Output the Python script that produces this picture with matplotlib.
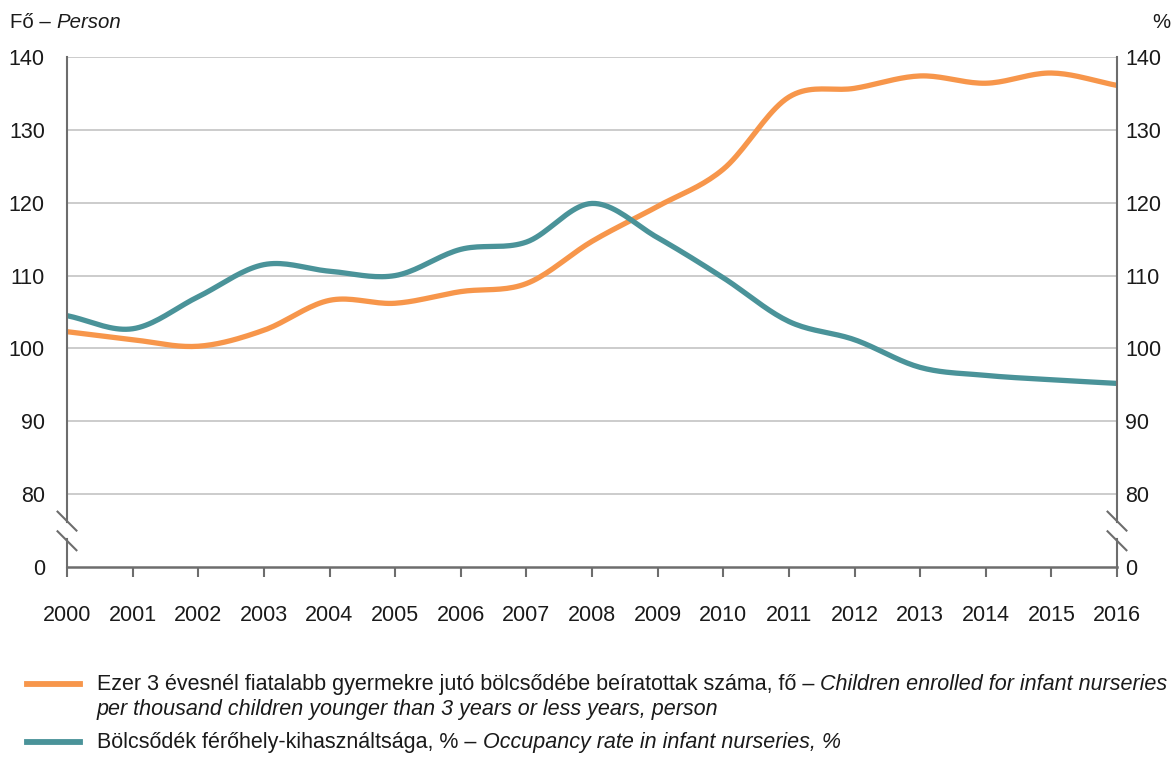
import numpy as np
import matplotlib.pyplot as plt
from matplotlib.lines import Line2D

plt.rcParams['font.family'] = ['Liberation Sans', 'DejaVu Sans']

# Adatok
YEARS = list(range(2000, 2017))
ENROLLED = [102.3, 101.2, 100.3, 102.5, 106.6, 106.2, 107.8, 108.9, 114.7,
            119.5, 124.6, 134.5, 135.7, 137.4, 136.4, 137.8, 136.1]
OCCUPANCY = [104.5, 102.7, 107.1, 111.5, 110.6, 110.0, 113.6, 114.6, 119.9,
             115.2, 109.7, 103.7, 101.2, 97.4, 96.3, 95.7, 95.2]
Y_TICKS = [70, 80, 90, 100, 110, 120, 130, 140]
Y_LABELS = ['0', '80', '90', '100', '110', '120', '130', '140']

ORANGE = '#F7964B'
TEAL = '#4A9399'
AXIS_GREY = '#6d6d6d'
GRID_GREY = '#c8c8c8'
TEXT = '#1a1a1a'


def smooth(x, y, n=20):
    """Catmull-Rom görbe a pontokon keresztül (Excel-szerű simítás)."""
    x = np.asarray(x, float)
    y = np.asarray(y, float)
    px = np.concatenate([[2 * x[0] - x[1]], x, [2 * x[-1] - x[-2]]])
    py = np.concatenate([[2 * y[0] - y[1]], y, [2 * y[-1] - y[-2]]])
    xs, ys = [], []
    t = np.linspace(0, 1, n, endpoint=False)
    for i in range(1, len(px) - 2):
        for p, out in ((px, xs), (py, ys)):
            p0, p1, p2, p3 = p[i - 1], p[i], p[i + 1], p[i + 2]
            out.extend(0.5 * (2 * p1 + (-p0 + p2) * t
                              + (2 * p0 - 5 * p1 + 4 * p2 - p3) * t ** 2
                              + (-p0 + 3 * p1 - 3 * p2 + p3) * t ** 3))
    xs.append(x[-1])
    ys.append(y[-1])
    return np.array(xs), np.array(ys)


fig = plt.figure(figsize=(11.76, 7.64), dpi=100)
ax = fig.add_axes([67 / 1176, 1 - 567 / 764, 1050 / 1176, 510 / 764])
renderer = fig.canvas.get_renderer()

ax.set_xlim(YEARS[0], YEARS[-1])
ax.set_ylim(70, 140)

for v in Y_TICKS[1:]:
    ax.axhline(v, color=GRID_GREY, lw=1.3, zorder=1)

sx, sy = smooth(YEARS, ENROLLED)
ax.plot(sx, sy, color=ORANGE, lw=3.8, solid_capstyle='round', zorder=3)
sx, sy = smooth(YEARS, OCCUPANCY)
ax.plot(sx, sy, color=TEAL, lw=3.8, solid_capstyle='round', zorder=3)

for side in ['left', 'right', 'top']:
    ax.spines[side].set_visible(False)
ax.spines['bottom'].set_color(AXIS_GREY)
ax.spines['bottom'].set_linewidth(1.8)

# függőleges tengelyek megszakítással
ytr = ax.get_yaxis_transform()
for xpos in [0, 1]:
    ax.plot([xpos, xpos], [140, 76.2], transform=ytr, color=AXIS_GREY, lw=1.5, clip_on=False, zorder=4)
    ax.plot([xpos, xpos], [73.8, 70], transform=ytr, color=AXIS_GREY, lw=1.5, clip_on=False, zorder=4)
    for y0, y1 in [(77.6, 75.0), (74.9, 72.3)]:
        ax.plot([xpos - 0.009, xpos + 0.009], [y0, y1], transform=ytr,
                color=AXIS_GREY, lw=1.5, clip_on=False, zorder=4)

ax.set_xticks(YEARS)
ax.set_xticklabels([str(y) for y in YEARS], fontsize=15.5, color=TEXT)
ax.tick_params(axis='x', direction='out', length=7.5, width=1.5, color=AXIS_GREY, pad=20)

ax.set_yticks(Y_TICKS)
ax.set_yticklabels(Y_LABELS, fontsize=15.5, color=TEXT)
ax.tick_params(axis='y', length=0, pad=16)

# jobb oldali tengelycímkék
ax2 = ax.twinx()
ax2.set_ylim(70, 140)
ax2.set_yticks(Y_TICKS)
ax2.set_yticklabels(Y_LABELS, fontsize=15.5, color=TEXT)
ax2.tick_params(axis='y', length=0, pad=6)
for side in ax2.spines:
    ax2.spines[side].set_visible(False)


def mixed_text(x_px, y_px, parts, size=14):
    """Álló és dőlt szövegrészek egymás után egy sorban."""
    x = x_px
    for txt, style in parts:
        t = fig.text(x / 1176, 1 - y_px / 764, txt, fontsize=size, style=style,
                     ha='left', va='baseline', color=TEXT)
        x += t.get_window_extent(renderer).width


mixed_text(10, 28, [('Fő – ', 'normal'), ('Person', 'italic')], size=14.7)
fig.text(1170 / 1176, 1 - 28 / 764, '%', fontsize=14.7, ha='right', va='baseline', color=TEXT)

# jelmagyarázat
fig.add_artist(Line2D([27 / 1176, 80 / 1176], [1 - 684 / 764] * 2, color=ORANGE, lw=4.2))
fig.add_artist(Line2D([27 / 1176, 80 / 1176], [1 - 742 / 764] * 2, color=TEAL, lw=4.2))
mixed_text(97, 690, [('Ezer 3 évesnél fiatalabb gyermekre jutó bölcsődébe beíratottak száma, fő – ', 'normal'),
                     ('Children enrolled for infant nurseries', 'italic')], size=15.5)
mixed_text(97, 715, [('per thousand children younger than 3 years or less years, person', 'italic')], size=15.5)
mixed_text(97, 748, [('Bölcsődék férőhely-kihasználtsága, % – ', 'normal'),
                     ('Occupancy rate in infant nurseries, %', 'italic')], size=15.5)

fig.savefig('out.png', dpi=100)
